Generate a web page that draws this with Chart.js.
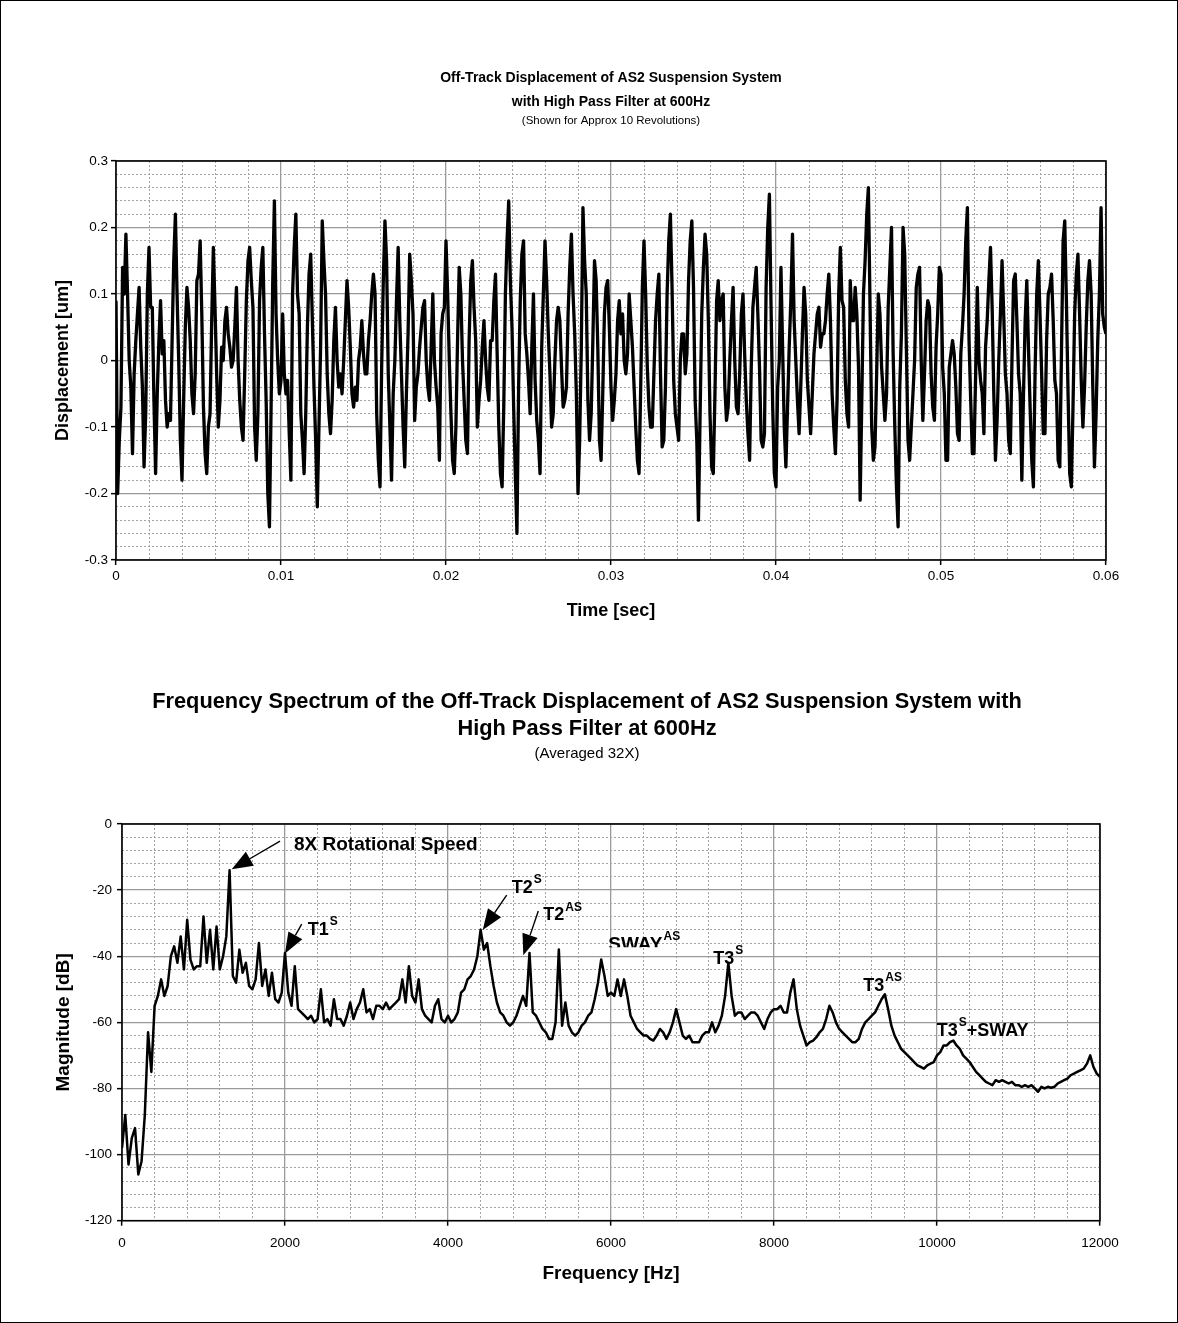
<!DOCTYPE html>
<html>
<head>
<meta charset="utf-8">
<title>AS2 Suspension Off-Track Displacement</title>
<script src="https://cdn.jsdelivr.net/npm/chart.js@4.4.1/dist/chart.umd.min.js"></script>
<style>
  html, body { margin: 0; padding: 0; background: #fff; }
  #page { position: relative; width: 1178px; height: 1323px; overflow: hidden; }
  #page canvas { position: absolute; left: 0; }
  #timeChart { top: 0; }
  #spectrumChart { top: 650px; }
  #frame { position: absolute; left: 0; top: 0; right: 0; bottom: 0; border: 1px solid #000; box-sizing: border-box; pointer-events: none; }
</style>
</head>
<body>
<div id="page">
  <canvas id="timeChart" width="1178" height="650"></canvas>
  <canvas id="spectrumChart" width="1178" height="673"></canvas>
  <div id="frame"></div>
</div>
<script>
// ---- time signal, one sample every 0.1 ms (0 .. 0.06 s) ----
const TIME_STEP = 0.0001;
const displacement = [
  0.09, -0.20, -0.12, -0.07, 0.14, 0.10, 0.19, 0.10, 0.00, -0.04,
  -0.14, -0.02, 0.03, 0.07, 0.11, 0.02, -0.04, -0.16, -0.08, 0.10,
  0.17, 0.08, 0.08, -0.06, -0.17, -0.05, 0.03, 0.09, 0.01, 0.03,
  -0.06, -0.10, -0.08, -0.09, 0.03, 0.15, 0.22, 0.10, 0.00, -0.12,
  -0.18, -0.06, 0.05, 0.11, 0.08, 0.03, -0.05, -0.08, -0.02, 0.12,
  0.13, 0.18, 0.07, -0.07, -0.14, -0.17, -0.10, -0.08, 0.06, 0.17,
  0.08, -0.02, -0.10, -0.06, 0.02, 0.00, 0.06, 0.08, 0.04, 0.02,
  -0.01, 0.00, 0.05, 0.11, 0.00, -0.06, -0.10, -0.12, -0.02, 0.09,
  0.15, 0.17, 0.12, 0.08, -0.10, -0.15, -0.08, 0.09, 0.14, 0.17,
  0.04, -0.06, -0.20, -0.25, -0.07, 0.12, 0.24, 0.07, 0.00, -0.05,
  -0.03, 0.07, -0.02, -0.05, -0.03, -0.11, -0.18, 0.10, 0.17, 0.22,
  0.10, 0.07, -0.08, -0.12, -0.17, -0.08, 0.05, 0.13, 0.16, 0.06,
  -0.04, -0.12, -0.22, -0.10, 0.02, 0.21, 0.15, 0.10, -0.02, -0.08,
  -0.11, -0.06, 0.03, 0.08, 0.00, -0.04, -0.02, -0.05, 0.00, 0.06,
  0.12, 0.08, 0.02, -0.05, -0.07, -0.04, -0.06, 0.00, 0.02, 0.06,
  0.01, -0.02, -0.02, 0.03, 0.06, 0.10, 0.13, 0.10, -0.08, -0.15,
  -0.19, -0.01, 0.12, 0.21, 0.15, -0.02, -0.10, -0.18, -0.05, 0.00,
  0.09, 0.17, 0.06, -0.02, -0.10, -0.16, -0.05, 0.04, 0.16, 0.12,
  0.07, -0.09, -0.04, -0.02, 0.02, 0.05, 0.08, 0.09, 0.00, -0.04,
  -0.06, 0.02, 0.10, 0.00, -0.04, -0.07, -0.15, 0.04, 0.07, 0.08,
  0.18, 0.10, 0.00, -0.08, -0.15, -0.17, -0.10, 0.03, 0.14, 0.10,
  0.00, -0.06, -0.12, -0.14, 0.03, 0.12, 0.15, 0.08, 0.03, -0.10,
  -0.06, -0.03, 0.02, 0.06, 0.00, -0.04, -0.06, 0.03, 0.03, 0.09,
  0.13, 0.01, -0.10, -0.17, -0.19, -0.07, 0.10, 0.18, 0.24, 0.12,
  0.05, -0.07, -0.17, -0.26, -0.04, 0.09, 0.16, 0.18, 0.04, 0.01,
  -0.03, -0.08, 0.02, 0.10, -0.03, -0.09, -0.12, -0.17, 0.02, 0.10,
  0.18, 0.12, 0.04, -0.02, -0.10, -0.08, 0.00, 0.06, 0.08, 0.06,
  -0.01, -0.07, -0.06, -0.04, 0.07, 0.14, 0.19, 0.10, 0.04, -0.05,
  -0.20, -0.12, 0.02, 0.23, 0.15, 0.10, -0.06, -0.12, -0.08, 0.03,
  0.15, 0.12, 0.02, -0.12, -0.15, -0.05, 0.07, 0.11, 0.12, 0.05,
  -0.04, -0.09, -0.06, -0.02, 0.06, 0.09, 0.04, 0.07, 0.00, -0.02,
  0.01, 0.10, 0.06, 0.02, -0.04, -0.10, -0.15, -0.17, -0.04, 0.11,
  0.18, 0.10, -0.01, -0.07, -0.10, -0.10, -0.02, 0.06, 0.10, 0.13,
  -0.02, -0.13, -0.12, -0.04, 0.10, 0.18, 0.22, 0.11, -0.03, -0.08,
  -0.10, -0.12, 0.00, 0.04, 0.04, -0.02, 0.01, 0.12, 0.18, 0.21,
  0.11, -0.06, -0.12, -0.24, -0.08, 0.07, 0.14, 0.19, 0.16, 0.06,
  -0.08, -0.16, -0.17, -0.05, 0.09, 0.12, 0.06, 0.09, 0.10, -0.04,
  -0.09, -0.07, 0.00, 0.06, 0.11, 0.00, -0.07, -0.08, -0.02, 0.07,
  0.10, 0.01, -0.06, -0.11, -0.15, -0.01, 0.08, 0.11, 0.14, 0.07,
  -0.01, -0.12, -0.13, -0.11, 0.11, 0.20, 0.25, 0.08, -0.07, -0.17,
  -0.19, -0.04, 0.00, 0.14, 0.02, -0.10, -0.16, -0.07, 0.02, 0.09,
  0.19, 0.06, 0.00, -0.06, -0.11, -0.04, 0.04, 0.11, 0.07, -0.03,
  -0.07, -0.11, -0.05, 0.01, 0.04, 0.07, 0.08, 0.02, 0.04, 0.04,
  0.06, 0.10, 0.13, 0.06, -0.05, -0.10, -0.14, -0.06, 0.10, 0.17,
  0.09, 0.08, -0.03, -0.08, -0.10, 0.12, 0.06, 0.06, 0.11, 0.07,
  -0.01, -0.21, -0.06, 0.10, 0.15, 0.22, 0.26, 0.08, -0.10, -0.15,
  -0.13, -0.02, 0.10, 0.07, -0.01, -0.05, -0.09, -0.05, 0.08, 0.14,
  0.20, 0.01, -0.10, -0.19, -0.25, -0.04, 0.04, 0.20, 0.16, 0.02,
  -0.12, -0.15, -0.10, -0.05, 0.00, 0.11, 0.13, 0.14, 0.00, -0.09,
  -0.02, 0.06, 0.09, 0.08, -0.02, -0.07, -0.09, 0.02, 0.07, 0.14,
  0.13, -0.01, -0.05, -0.15, -0.15, -0.01, 0.01, 0.03, 0.01, -0.04,
  -0.11, -0.12, 0.01, 0.05, 0.10, 0.18, 0.23, 0.03, -0.06, -0.14,
  -0.14, -0.02, 0.11, 0.00, -0.03, -0.05, -0.11, 0.02, 0.06, 0.12,
  0.17, 0.08, -0.05, -0.15, -0.09, 0.00, 0.07, 0.15, 0.07, -0.02,
  -0.05, -0.12, -0.14, 0.00, 0.12, 0.13, 0.06, -0.02, -0.05, -0.18,
  -0.05, 0.06, 0.12, 0.02, -0.07, -0.15, -0.19, -0.02, 0.10, 0.15,
  0.07, -0.02, -0.11, -0.11, 0.03, 0.10, 0.11, 0.13, 0.06, -0.03,
  -0.05, -0.15, -0.16, 0.01, 0.18, 0.21, 0.09, -0.05, -0.17, -0.19,
  -0.07, 0.07, 0.13, 0.16, 0.07, -0.03, -0.10, -0.04, 0.05, 0.12,
  0.15, 0.10, -0.04, -0.16, -0.08, 0.03, 0.10, 0.23, 0.07, 0.05,
  0.04
];

// ---- spectrum, one bin every 40 Hz (0 .. 12000 Hz), dB ----
const FREQ_STEP = 40;
const magnitude = [
  -98, -88, -103, -95, -92, -106, -102, -88, -63, -75,
  -55, -52, -47, -52, -49, -40, -37, -42, -34, -44,
  -29, -41, -44, -43, -43, -28, -42, -32, -44, -31,
  -44, -40, -34, -14, -46, -48, -38, -45, -42, -49,
  -50, -47, -36, -49, -44, -52, -45, -53, -54, -51,
  -39, -51, -55, -43, -56, -57, -58, -59, -58, -60,
  -59, -50, -60, -59, -61, -53, -59, -59, -61, -58,
  -54, -59, -56, -54, -50, -57, -56, -59, -55, -55,
  -56, -54, -56, -55, -54, -53, -47, -54, -43, -52,
  -54, -47, -56, -58, -59, -60, -55, -53, -59, -60,
  -58, -60, -59, -57, -51, -50, -47, -46, -44, -40,
  -32, -38, -36, -43, -49, -54, -57, -58, -60, -61,
  -60, -58, -55, -52, -55, -39, -57, -58, -60, -62,
  -63, -65, -65, -60, -38, -61, -54, -61, -63, -64,
  -63, -61, -60, -58, -57, -53, -48, -41, -46, -52,
  -51, -52, -47, -52, -47, -52, -58, -60, -62, -63,
  -64, -64, -65, -65.5, -64, -62, -63, -65, -63, -60,
  -56, -60, -64, -65, -64, -66, -66, -66, -64, -63,
  -63, -60, -63, -61, -58, -52, -42, -52, -58, -57,
  -57, -59, -58, -57, -57, -58, -60, -62, -59, -57,
  -56, -56, -55, -57, -57, -51, -47, -56, -61, -64,
  -67, -66, -65.5, -64.5, -63, -62, -59, -55, -57, -60,
  -62, -63, -64, -65, -66, -66, -65, -62, -60, -59,
  -58, -57, -55, -53, -51.5, -56, -61, -64, -66, -68,
  -69, -70, -71, -72, -73, -73.5, -74, -73, -72.5, -72,
  -70, -69, -67, -67, -66, -65.5, -67, -68, -70, -71,
  -72, -73.5, -75, -76, -77, -78, -78.5, -79, -77.5, -78,
  -77.5, -78, -78.5, -78, -79, -79, -79.5, -79, -79.5, -79,
  -80, -81, -79.5, -80, -79.5, -79.8, -79.5, -78.5, -78, -77.5,
  -77, -76, -75.5, -75, -74.5, -74, -72.5, -70, -73.5, -75.5,
  -76.5
];

// axis ranges: [min, max, minor step, major step]
const timeAxis = [0, 0.06, 0.002, 0.01];
const dispAxis = [-0.3, 0.3, 0.02, 0.1];
const freqAxis = [0, 12000, 400, 2000];
const dbAxis = [-120, 0, 4, 20];

// peak labels on the spectrum (Hz, dB)
const spectrumNotes = [
  { text: '8X Rotational Speed', hz: 2110, db: -6.4, size: 19, tail: [1939, -5.2], tip: [1346, -13.7] },
  { text: 'T1', sup: 'S', hz: 2279, db: -32.1, size: 18, tail: [2205, -30.3], tip: [2000, -39.2] },
  { text: 'T2', sup: 'S', hz: 4782, db: -19.4, size: 18, tail: [4720, -21.5], tip: [4426, -32.1] },
  { text: 'T2', sup: 'AS', hz: 5169, db: -27.6, size: 18, tail: [5108, -26.3], tip: [4924, -39.7] },
  { text: 'SWAY', sup: 'AS', hz: 5967, db: -36.4, size: 19, cutDb: -37.3 },
  { text: 'T3', sup: 'S', hz: 7255, db: -40.7, size: 18 },
  { text: 'T3', sup: 'AS', hz: 9096, db: -49.0, size: 18 },
  { text: 'T3', sup: 'S', after: '+SWAY', hz: 9996, db: -62.6, size: 18 }
];

Chart.defaults.font.family = "Arial, 'Liberation Sans', sans-serif";
Chart.defaults.color = '#000';

const isMajor = (v, step) => Math.abs(v / step - Math.round(v / step)) < 1e-6;

function gridFor(major) {
  return {
    color: c => (c.tick && isMajor(c.tick.value, major)) ? '#9a9a9a' : '#a4a4a4',
    lineWidth: c => (c.tick && isMajor(c.tick.value, major)) ? 1.3 : 1,
    tickLength: 5,
    tickWidth: 1.5,
    tickColor: c => (c.tick && isMajor(c.tick.value, major)) ? '#000' : 'rgba(0,0,0,0)'
  };
}

function borderFor(major) {
  return {
    display: false,
    dash: c => (c.tick && !isMajor(c.tick.value, major)) ? [2, 2] : []
  };
}

function linearAxis(range, decimals, extra) {
  const [min, max, minor, major] = range;
  return Object.assign({
    type: 'linear',
    min: min,
    max: max,
    grid: gridFor(major),
    border: borderFor(major),
    ticks: {
      stepSize: minor,
      autoSkip: false,
      maxRotation: 0,
      minRotation: 0,
      font: { size: 13.5 },
      callback: v => isMajor(v, major) ? String(+(Math.round(v / major) * major).toFixed(decimals)) : ''
    }
  }, extra);
}

// black box round the plot area
const plotFrame = {
  id: 'plotFrame',
  beforeDatasetsDraw(chart) {
    const { ctx, chartArea: a } = chart;
    ctx.save();
    ctx.strokeStyle = '#000';
    ctx.lineWidth = 1.6;
    ctx.strokeRect(a.left, a.top, a.right - a.left, a.bottom - a.top);
    ctx.restore();
  }
};

const peakNotes = {
  id: 'peakNotes',
  afterDatasetsDraw(chart) {
    const { ctx, scales: { x, y } } = chart;
    ctx.save();
    ctx.fillStyle = '#000';
    ctx.strokeStyle = '#000';
    ctx.textBaseline = 'middle';
    ctx.textAlign = 'left';
    const family = Chart.defaults.font.family;
    spectrumNotes.forEach(n => {
      if (n.tip) {
        const x0 = x.getPixelForValue(n.tail[0]), y0 = y.getPixelForValue(n.tail[1]);
        const x1 = x.getPixelForValue(n.tip[0]), y1 = y.getPixelForValue(n.tip[1]);
        const ang = Math.atan2(y1 - y0, x1 - x0);
        const len = 21, half = 8;
        const bx = x1 - len * Math.cos(ang), by = y1 - len * Math.sin(ang);
        ctx.lineWidth = 1.4;
        ctx.beginPath();
        ctx.moveTo(x0, y0);
        ctx.lineTo(bx, by);
        ctx.stroke();
        ctx.beginPath();
        ctx.moveTo(x1, y1);
        ctx.lineTo(bx + half * Math.sin(ang), by - half * Math.cos(ang));
        ctx.lineTo(bx - half * Math.sin(ang), by + half * Math.cos(ang));
        ctx.closePath();
        ctx.fill();
      }
      ctx.save();
      if (n.cutDb !== undefined) {
        ctx.beginPath();
        ctx.rect(0, 0, chart.width, y.getPixelForValue(n.cutDb));
        ctx.clip();
      }
      let px = x.getPixelForValue(n.hz);
      const py = y.getPixelForValue(n.db);
      ctx.font = 'bold ' + n.size + 'px ' + family;
      ctx.fillText(n.text, px, py);
      px += ctx.measureText(n.text).width + 1;
      if (n.sup) {
        ctx.font = 'bold 12px ' + family;
        ctx.fillText(n.sup, px, py - 8);
        px += ctx.measureText(n.sup).width;
      }
      if (n.after) {
        ctx.font = 'bold ' + n.size + 'px ' + family;
        ctx.fillText(n.after, px, py);
      }
      ctx.restore();
    });
    ctx.restore();
  }
};

new Chart(document.getElementById('timeChart'), {
  type: 'line',
  data: {
    datasets: [{
      data: displacement.map((v, i) => ({ x: i * TIME_STEP, y: v })),
      borderColor: '#000',
      borderWidth: 3.3,
      borderJoinStyle: 'round',
      pointRadius: 0,
      tension: 0
    }]
  },
  options: {
    responsive: false,
    animation: false,
    layout: { padding: { top: 66, left: 16, right: 72, bottom: 20 } },
    plugins: {
      legend: { display: false },
      tooltip: { enabled: false },
      title: {
        display: true,
        fullSize: false,
        text: ['Off-Track Displacement of AS2 Suspension System', 'with High Pass Filter at 600Hz'],
        font: { size: 14, weight: 'bold', lineHeight: '24px' },
        padding: { top: 0, bottom: 0 }
      },
      subtitle: {
        display: true,
        fullSize: false,
        text: '(Shown for Approx 10 Revolutions)',
        font: { size: 11.5, lineHeight: '14px' },
        padding: { top: 0, bottom: 33 }
      }
    },
    scales: {
      x: linearAxis(timeAxis, 2, {
        title: { display: true, text: 'Time [sec]', font: { size: 18, weight: 'bold' }, padding: { top: 0, bottom: 8 } },
        afterFit: s => { s.height = 70; }
      }),
      y: linearAxis(dispAxis, 1, {
        title: { display: true, text: 'Displacement [um]', font: { size: 18, weight: 'bold' }, padding: { top: 36, bottom: 0 } },
        afterFit: s => { s.width = 100; }
      })
    }
  },
  plugins: [plotFrame]
});

(function () {
  const freqScale = linearAxis(freqAxis, 0, {
    title: { display: true, text: 'Frequency [Hz]', font: { size: 19, weight: 'bold' }, padding: { top: 0, bottom: 16 } },
    afterFit: s => { s.height = 80; }
  });
  freqScale.ticks.padding = 9;
  const dbScale = linearAxis(dbAxis, 0, {
    title: { display: true, text: 'Magnitude [dB]', font: { size: 19, weight: 'bold' }, padding: { top: 52, bottom: 0 } },
    afterFit: s => { s.width = 122; }
  });
  dbScale.ticks.padding = 5;

  new Chart(document.getElementById('spectrumChart'), {
    type: 'line',
    data: {
      datasets: [{
        data: magnitude.map((v, i) => ({ x: i * FREQ_STEP, y: v })),
        borderColor: '#000',
        borderWidth: 2.5,
        borderJoinStyle: 'round',
        pointRadius: 0,
        tension: 0
      }]
    },
    options: {
      responsive: false,
      animation: false,
      layout: { padding: { top: 38.5, left: 0, right: 4, bottom: 22.3 } },
      plugins: {
        legend: { display: false },
        tooltip: { enabled: false },
        title: {
          display: true,
          text: ['Frequency Spectrum of the Off-Track Displacement of AS2 Suspension System with', 'High Pass Filter at 600Hz'],
          font: { size: 21.8, weight: 'bold', lineHeight: '27px' },
          padding: { top: 0, bottom: 0 }
        },
        subtitle: {
          display: true,
          text: '(Averaged 32X)',
          font: { size: 15, lineHeight: '20px' },
          padding: { top: 1.5, bottom: 60 }
        }
      },
      scales: {
        x: freqScale,
        y: dbScale,
        // empty right-hand axis: keeps the titles centred on the page
        yRight: {
          type: 'linear',
          position: 'right',
          grid: { display: false, drawTicks: false },
          border: { display: false },
          ticks: { display: false },
          afterFit: s => { s.width = 74; }
        }
      }
    },
    plugins: [plotFrame, peakNotes]
  });
})();
</script>
</body>
</html>
